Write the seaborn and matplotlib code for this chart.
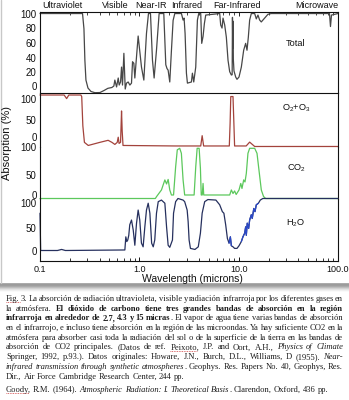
import matplotlib
matplotlib.use("Agg")
import matplotlib.pyplot as plt
from matplotlib.lines import Line2D
from matplotlib.ticker import FixedLocator, LogLocator, NullFormatter
from matplotlib.transforms import ScaledTranslation
import numpy as np
import seaborn as sns

# ---------------- data (wavelength in microns, absorption in %) ----------------
total_wl = [0.1, 0.268, 0.277, 0.283, 0.290, 0.304, 0.326, 0.357, 0.401, 0.440, 0.482, 0.529,
            0.554, 0.567, 0.590, 0.613, 0.627, 0.647, 0.662, 0.677, 0.699, 0.721, 0.743, 0.772,
            0.803, 0.834, 0.854, 0.880, 0.901, 0.973, 1.051, 1.110, 1.180, 1.236, 1.295, 1.356,
            1.409, 1.488, 1.582, 1.763, 1.847, 1.900, 1.949, 2.025, 2.105, 2.188, 2.274, 2.653,
            2.757, 2.822, 2.888, 2.979, 3.049, 3.344, 3.422, 3.530, 3.697, 3.843, 3.963, 4.150,
            4.246, 4.380, 4.518, 4.660, 6.442, 6.592, 6.800, 6.959, 7.233, 7.516, 7.812, 8.120,
            8.440, 8.600, 8.660, 8.720, 8.780, 8.840, 8.970, 9.330, 9.620, 10.08, 10.64, 11.23,
            11.76, 12.13, 12.51, 12.90, 13.41, 14.49, 15.05, 15.64, 16.26, 16.89, 18.25, 19.71,
            21.3, 82.1, 84.0, 86.0, 100.0]
total_abs = [100, 100, 80, 39, 13, 2.6, -1.9, -3.5, -3.3, -0.7, 2.2, 3.3,
             5.2, 13, 4, 15.7, 6.5, 10.5, 30, 6.5, 48, 1.3, 9, 10.5,
             6.5, 9, 37, 35, 15.7, 70.6, 30, 13, 74, 100, 100, 39,
             15.7, 52, 100, 100, 33, 28, 26, 10.5, 52, 91, 100, 100,
             91.5, 94, 74, 22, 9, 10.5, 22, 10.5, 30, 91.5, 100, 100,
             61, 70, 87, 98, 100, 85, 81, 94, 85, 69, 39, 24,
             19.6, 20, 95, 55, 90, 40, 25, 17, 14, 17, 30, 52,
             61, 52, 69, 91.5, 100, 100, 93, 98, 91.5, 89, 94, 99,
             100, 100, 83, 98, 100]

o2o3_wl = [0.1, 0.175, 0.1854, 0.195, 0.258, 0.263, 0.270, 0.280, 0.306, 0.40, 0.485, 0.53,
           0.567, 0.599, 0.613, 0.625, 0.647, 0.655, 0.662, 0.672, 0.685, 2.3, 4.15, 4.29,
           4.44, 8.05, 8.2, 8.33, 8.77, 8.95, 9.1, 11.9, 12.9, 14.5, 100.0]
o2o3_abs = [100, 100, 93, 100, 100, 97, 40, 8, 2, 8, 12, 8,
            4, 8, 18, 6, 8, 40, 69, 30, 2, 1, 1, 21,
            1, 1, 45, 97, 97, 45, 1, 1, 8.5, 0, 0]

co2_wl = [0.1, 1.45, 1.488, 1.67, 1.807, 1.88, 1.95, 2.025, 2.105, 2.21, 2.32, 2.41, 2.55,
          2.65, 2.757, 2.86, 3.56, 3.697, 3.82, 4.0, 4.12, 4.2, 4.3, 4.38, 4.45, 8.12, 8.44,
          8.77, 9.1, 9.44, 10.08, 10.5, 10.8, 11.23, 11.58, 11.94, 12.4, 12.9, 14.49, 15.3,
          16.0, 16.9, 17.8, 18.7, 100.0]
co2_abs = [0, 0, 3.6, 17, 37, 29, 38, 17, 7, 7, 63, 97, 100,
           90, 37, 7, 7, 63, 100, 100, 60, 7, 7, 30, 7, 7, 17,
           10, 15, 8, 17, 30, 20, 37, 33, 50, 90, 100, 100, 90,
           57, 17, 4, 0, 0]

h2o_wl = [0.1, 0.1015, 0.15, 0.165, 0.18, 0.715, 0.731, 0.748, 0.765, 0.783, 0.801, 0.834,
          0.868, 0.901, 0.937, 0.973, 1.01, 1.05, 1.092, 1.136, 1.18, 1.228, 1.277, 1.33,
          1.38, 1.43, 1.488, 1.55, 1.67, 1.807, 1.88, 1.95, 2.025, 2.155, 2.21, 2.32, 2.45,
          2.757, 2.86, 3.03, 3.1, 3.17, 3.27, 3.63, 3.92, 4.12, 4.29, 4.55, 4.9, 5.9, 6.44,
          6.85, 7.1, 7.4, 7.7, 8.0, 8.25, 8.44, 8.77, 9.1, 9.62, 10.08, 10.64, 11.04, 11.5,
          11.76, 11.94, 12.2, 12.6, 12.9, 13.4, 13.7, 14.2, 14.6, 15.05, 15.8, 16.5, 17.5, 100.0]
h2o_abs = [72, 1, 1, 3, 1, 2, 27, 18, 21, 30, 50, 59,
           40, 11, 53, 78, 59, 15, 8, 46, 78, 91, 72, 15,
           8, 21, 72, 94, 97, 91, 46, 11, 7, 21, 72, 94, 100,
           97, 94, 78, 56, 21, 5, 3, 8, 34, 72, 94, 98, 97, 88,
           75, 72, 50, 24, 15, 27, 10, 8, 5, 5, 10, 18, 27, 34,
           46, 30, 53, 43, 59, 69, 62, 81, 75, 88, 91, 97, 100, 100]

x_ticks = [0.1, 1.0, 10.0, 100.0]
x_ticklabels = ["0.1", "1.0", "10.0", "100.0"]
regions = ["Ultraviolet", "Visible", "Near-IR", "Infrared", "Far-Infrared", "Microwave"]
region_x = [62, 115, 151, 187, 237, 317]

caption_lines = [
    [("Fig. 3. La absorción de radiación ultravioleta, visible y radiación infrarroja por los diferentes gases en", "n")],
    [("la atmósfera.", "n"), (" El dióxido de carbono tiene tres grandes bandas de absorción en la región", "b")],
    [("infrarroja en alrededor de 2.7, 4.3 y 15 micras", "b"), (". El vapor de agua tiene varias bandas de absorción", "n")],
    [("en el infrarrojo, e incluso tiene absorción en la región de las microondas. Ya hay suficiente CO2 en la", "n")],
    [("atmósfera para absorber casi toda la radiación del sol o de la superficie de la tierra en las bandas de", "n")],
    [("absorción de CO2 principales. (Datos de ref. Peixoto, J.P. and Oort, A.H., ", "n"), ("Physics of Climate", "i")],
    [("Springer, 1992, p.93.). Datos originales: Howare, J.N., Burch, D.L., Williams, D (1955). ", "n"), ("Near-", "i")],
    [("infrared transmission through synthetic atmospheres", "i"), (". Geophys. Res. Papers No. 40, Geophys, Res.", "n")],
    [("Dir., Air Force Cambridge Research Center, 244 pp.", "n")],
    [("Goody, R.M. (1964). ", "n"), ("Atmospheric Radiation: I. Theoretical Basis", "i"), (". Clarendon, Oxford, 436 pp.", "n")],
]
justified = [True] * 8 + [False, False]
underlined = {(0, "Fig."), (5, "Peixoto"), (9, "Goody")}

# ---------------- style ----------------
sns.set_style("white")
plt.rcParams["font.family"] = ["Liberation Sans", "DejaVu Sans"]
plt.rcParams["mathtext.fontset"] = "custom"
plt.rcParams["mathtext.rm"] = "Liberation Sans"

W, H = 349, 400
fig = plt.figure(figsize=(W / 100, H / 100), dpi=100)
fig.patch.set_facecolor("white")


def add_ax(top, bottom):
    return fig.add_axes([40 / W, 1 - bottom / H, (338 - 40) / W, (bottom - top) / H])


ax_tot = add_ax(12, 93)
ax_o2 = add_ax(93, 147)
ax_co2 = add_ax(147, 198.5)
ax_h2o = add_ax(198.5, 261)

# (axes, x, y, colour, ylim, ticks, label, label y, tick-label pixel nudges (down = +))
panels = [
    (ax_tot, total_wl, total_abs, "#474747", (-3.9, 102), [0, 20, 40, 60, 80, 100], "Total", 44,
     [-4, -3, -1.1, -0.8, -1.1, 0.5]),
    (ax_o2, o2o3_wl, o2o3_abs, "#a3433c", (-1, 103.9), [0, 50, 100],
     r"O$_\mathregular{2}$+O$_\mathregular{3}$", 108, [-9, -1.2, 4]),
    (ax_co2, co2_wl, co2_abs, "#5cc85c", (0, 102.6), [0, 50, 100], r"CO$_\mathregular{2}$", 168,
     [-4, 1.1, -1.3]),
    (ax_h2o, h2o_wl, h2o_abs, "#26305e", (-19, 100), [0, 50, 100], r"H$_\mathregular{2}$O", 223,
     [0, 3.2, 4.5]),
]

for ax, wl, ab, col, ylim, yt, lab, ly, nudges in panels:
    ax.set_xscale("log")
    sns.lineplot(x=wl, y=ab, ax=ax, color=col, linewidth=0.9, sort=False, estimator=None)
    for ln in ax.lines:
        ln.set_clip_on(False)
    ax.set_xlim(0.1, 100)
    ax.set_ylim(*ylim)
    ax.set_xlabel("")
    ax.set_ylabel("")
    ax.set_yticks(yt)
    ax.set_yticklabels([str(v) for v in yt])
    ax.tick_params(axis="y", length=0, pad=2.5, labelsize=7, colors="#111111")
    for tl, dy in zip(ax.get_yticklabels(), nudges):
        tl.set_transform(tl.get_transform() + ScaledTranslation(0, -dy / 100.0, fig.dpi_scale_trans))
    ax.tick_params(axis="x", which="both", bottom=False, top=False, labelbottom=False)
    ax.set_facecolor("none")
    for s in ax.spines.values():
        s.set_linewidth(0.8)
        s.set_color("#111111")
    ax.spines["top"].set_visible(False)
    ax.spines["bottom"].set_visible(False)
    fig.text(296 / W, 1 - ly / H, lab, ha="center", va="center", fontsize=6.6, color="#111111")

# H2O noisy (bright blue) segments
h2o_wl_a = np.array(h2o_wl)
h2o_abs_a = np.array(h2o_abs)
for lo, hi in [(7.9, 8.6), (10.5, 16.0)]:
    m = (h2o_wl_a >= lo) & (h2o_wl_a <= hi)
    sns.lineplot(x=h2o_wl_a[m], y=h2o_abs_a[m], ax=ax_h2o, color="#2a48c8", linewidth=0.9,
                 sort=False, estimator=None)

# frame pieces
ax_tot.spines["top"].set_visible(True)
ax_tot.spines["bottom"].set_visible(True)
ax_h2o.spines["bottom"].set_visible(True)

# x ticks
for ax in [ax_tot, ax_h2o]:
    ax.xaxis.set_major_locator(FixedLocator(x_ticks))
    ax.xaxis.set_minor_locator(LogLocator(base=10, subs=np.arange(2, 10)))
    ax.xaxis.set_minor_formatter(NullFormatter())
ax_h2o.set_xticklabels(x_ticklabels)
ax_h2o.tick_params(axis="x", which="both", bottom=True, top=False, labelbottom=True,
                   direction="in", labelsize=6.5, pad=2.6, colors="#111111")
ax_h2o.tick_params(axis="x", which="major", length=3, width=0.7)
ax_h2o.tick_params(axis="x", which="minor", length=2, width=0.6)
ax_tot.tick_params(axis="x", which="both", bottom=False, top=True, labelbottom=False,
                   direction="in")
ax_tot.tick_params(axis="x", which="major", length=3, width=0.7)
ax_tot.tick_params(axis="x", which="minor", length=2, width=0.6)

# region labels and axis titles
for name, x in zip(regions, region_x):
    fig.text(x / W, 1 - 6 / H, name, ha="center", va="center", fontsize=6.5, color="#111111")
fig.text(7.5 / W, 1 - 142.5 / H, "Absorption (%)", rotation=90, ha="center", va="center",
         fontsize=8, color="#111111")
fig.text(192.5 / W, 1 - 278.5 / H, "Wavelength (microns)", ha="center", va="center",
         fontsize=7.5, color="#111111")

# left border line of the original picture
fig.add_artist(Line2D([0.8 / W, 0.8 / W], [1 - 283 / H, 1], transform=fig.transFigure,
                      color="#c8c8c8", linewidth=1))

# shadow band under the chart
sh = fig.add_axes([0, 1 - 292 / H, 1, 9 / H])
grad = np.array([0.86, 0.64, 0.60, 0.63, 0.70, 0.79, 0.87, 0.93, 0.98]).reshape(-1, 1)
sh.imshow(np.repeat(grad, 10, axis=1), cmap="gray", vmin=0, vmax=1, aspect="auto",
          interpolation="bilinear")
sh.set_axis_off()

# ---------------- caption (justified) ----------------
fig.canvas.draw()
r = fig.canvas.get_renderer()
serif = ["Liberation Serif", "DejaVu Serif"]


def props(st, fs):
    return dict(fontsize=fs, family=serif,
                weight="bold" if st == "b" else "normal",
                style="italic" if st == "i" else "normal")


def text_w(s, st, fs):
    t = fig.text(0, 0, s, **props(st, fs))
    w = t.get_window_extent(renderer=r).width
    t.remove()
    return w


# font size fitted so that a plain, tightly set line fills the full width
fs0 = 6.0
w_ref = sum(text_w(s, st, fs0) for s, st in caption_lines[4])
fs = fs0 * 343.0 / w_ref

left, right = 6.0, 343.0
baselines = [300.8 + 9.72 * i for i in range(9)] + [391.5]
for li, segs in enumerate(caption_lines):
    words = []
    new_word = True
    for txt, st in segs:
        parts = txt.split(" ")
        for i, p in enumerate(parts):
            if i > 0:
                new_word = True
            if p == "":
                continue
            if new_word or not words:
                words.append([(p, st)])
                new_word = False
            else:
                words[-1].append((p, st))
    widths = [[text_w(c, st, fs) for c, st in w] for w in words]
    totals = [sum(ws) for ws in widths]
    space = text_w("x x", "n", fs) - text_w("xx", "n", fs)
    if justified[li] and len(words) > 1:
        gap = (right - left - sum(totals)) / (len(words) - 1)
    else:
        gap = space
    base = baselines[li]
    x = left
    for w, ws in zip(words, widths):
        xx = x
        for (c, st), cw in zip(w, ws):
            fig.text(xx / W, 1 - base / H, c, ha="left", va="baseline", color="#1c1c1c",
                     **props(st, fs))
            xx += cw
        full = "".join(c for c, _ in w)
        for (uli, key) in underlined:
            if uli == li and full.startswith(key):
                uw = text_w(key, "n", fs)
                fig.add_artist(Line2D([x / W, (x + uw) / W], [1 - (base + 1.6) / H] * 2,
                                      transform=fig.transFigure, color="#d04040",
                                      linewidth=0.6, linestyle=(0, (1, 1))))
        x += sum(ws) + gap

fig.savefig("out.png", dpi=100, facecolor="white")
